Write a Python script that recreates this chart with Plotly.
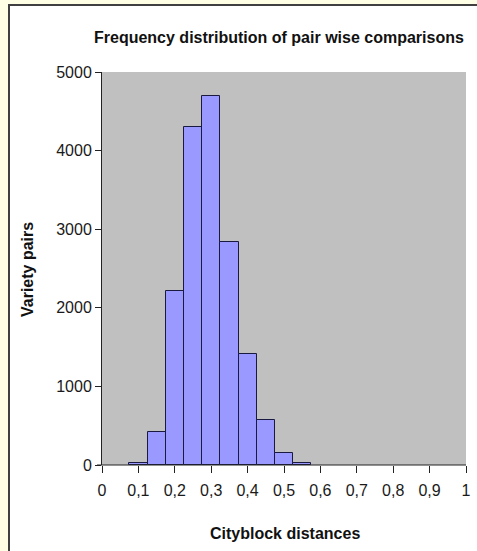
import plotly.graph_objects as go

bin_centers = [0.10, 0.15, 0.20, 0.25, 0.30, 0.35, 0.40, 0.45, 0.50, 0.55]
counts = [30, 415, 2215, 4295, 4695, 2835, 1410, 575, 155, 25]
x_ticks = [0, 0.1, 0.2, 0.3, 0.4, 0.5, 0.6, 0.7, 0.8, 0.9, 1.0]
x_tick_labels = ["0", "0,1", "0,2", "0,3", "0,4", "0,5", "0,6", "0,7", "0,8", "0,9", "1"]
y_ticks = [0, 1000, 2000, 3000, 4000, 5000]
y_tick_labels = ["0", "1000", "2000", "3000", "4000", "5000"]

W, H = 477, 551
L, R, T, B = 102, 11, 72, 86
pw, ph = W - L - R, H - T - B

def px_x(p):
    return (p - L) / pw

def px_y(p):
    return (H - B - p) / ph

fig = go.Figure()
fig.add_trace(go.Bar(
    x=bin_centers, y=counts, width=0.05,
    marker=dict(color="#9999FF", line=dict(color="#1a1a40", width=1)),
    hoverinfo="skip",
))

fig.add_shape(type="rect", xref="paper", yref="paper",
              x0=px_x(9), x1=px_x(490), y0=px_y(560), y1=px_y(5),
              fillcolor="white", line=dict(color="#404040", width=2), layer="below")
fig.add_shape(type="rect", xref="paper", yref="paper",
              x0=0, x1=1, y0=0, y1=1,
              fillcolor="#C0C0C0", line=dict(width=0), layer="below")
fig.add_shape(type="line", xref="paper", yref="paper", x0=px_x(97), x1=1, y0=0, y1=0,
              line=dict(color="#222222", width=1))

font_family = "Liberation Sans, Arial, sans-serif"
txt = "#1a1a1a"
fig.update_layout(
    width=W, height=H,
    margin=dict(l=L, r=R, t=T, b=B, autoexpand=False),
    paper_bgcolor="#FFFFE6",
    plot_bgcolor="rgba(0,0,0,0)",
    showlegend=False,
    font=dict(family=font_family, color=txt, size=16),
    bargap=0,
)
fig.add_annotation(text="<b>Frequency distribution of pair wise comparisons</b>",
                   xref="paper", yref="paper", x=px_x(279), y=px_y(37),
                   xanchor="center", yanchor="middle", showarrow=False,
                   font=dict(size=16, color="#111111"))
fig.add_annotation(text="<b>Cityblock distances</b>",
                   xref="paper", yref="paper", x=px_x(285), y=px_y(533),
                   xanchor="center", yanchor="middle", showarrow=False,
                   font=dict(size=16, color="#111111"))
fig.add_annotation(text="<b>Variety pairs</b>", textangle=-90,
                   xref="paper", yref="paper", x=px_x(27), y=px_y(270),
                   xanchor="center", yanchor="middle", showarrow=False,
                   font=dict(size=16, color="#111111"))
fig.update_xaxes(
    range=[0, 1], tickvals=x_ticks, ticktext=x_tick_labels,
    showgrid=False, zeroline=False, automargin=False,
    showline=False, ticks="outside", ticklen=7, tickcolor="#222222",
    tickfont=dict(size=16, color=txt), ticklabelstandoff=4,
)
fig.update_yaxes(
    range=[0, 5000], tickvals=y_ticks, ticktext=y_tick_labels,
    showgrid=False, zeroline=False, automargin=False,
    showline=True, linecolor="#222222", linewidth=1,
    ticks="outside", ticklen=6, tickcolor="#222222",
    tickfont=dict(size=16, color=txt),
)

fig.write_html("out.html", config={"displayModeBar": False},
               post_script="document.body.style.margin='0';document.body.style.background='#FFFFE6';")
